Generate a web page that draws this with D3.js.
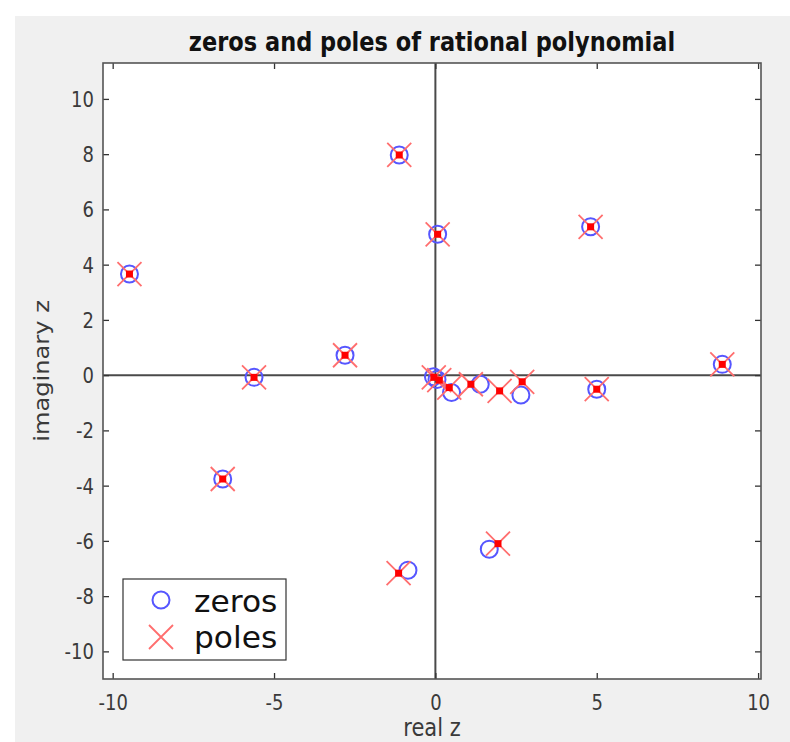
<!DOCTYPE html>
<html>
<head>
<meta charset="utf-8">
<script src="https://cdn.jsdelivr.net/npm/d3@7"></script>
<style>
  html, body { margin: 0; padding: 0; background: #fff; }
  text { font-family: "DejaVu Sans", sans-serif; }
</style>
</head>
<body>
<svg id="chart" width="790" height="742"></svg>
<script>
// Zeros and poles of a rational polynomial, plotted in the complex plane.
const zerosRe = [-9.48, -6.59, -5.62, -2.80, -1.12, 0.07, 4.81, 8.89, 5.00, -0.85, 1.67, -0.06, 0.05, 0.50, 1.39, 2.65];
const zerosIm = [3.66, -3.76, -0.08, 0.72, 7.97, 5.10, 5.37, 0.39, -0.51, -7.06, -6.30, -0.06, -0.16, -0.63, -0.33, -0.72];
const polesRe = [-9.48, -6.59, -5.62, -2.80, -1.12, 0.07, 4.81, 8.89, 5.00, -1.14, 1.94, -0.05, 0.12, 0.43, 1.10, 1.99, 2.69];
const polesIm = [3.66, -3.76, -0.08, 0.72, 7.97, 5.10, 5.37, 0.39, -0.51, -7.17, -6.10, -0.08, -0.18, -0.45, -0.33, -0.57, -0.24];

const xTicks = [-10, -5, 0, 5, 10];
const yTicks = [-10, -8, -6, -4, -2, 0, 2, 4, 6, 8, 10];
const xDomain = [-10.3, 10.09];
const yDomain = [-11.0, 11.3];

const titleText = "zeros and poles of rational polynomial";
const xLabel = "real z";
const yLabel = "imaginary z";
const legendLabels = ["zeros", "poles"];

const zeros = zerosRe.map((re, i) => ({ re, im: zerosIm[i] }));
const poles = polesRe.map((re, i) => ({ re, im: polesIm[i] }));

const svg = d3.select("#chart");
const box = { left: 103, right: 761, top: 63, bottom: 679 };
const SY = 1.15;            // glyphs are drawn slightly taller than wide
const tickFont = 18;

const x = d3.scaleLinear().domain(xDomain).range([box.left, box.right]);
const y = d3.scaleLinear().domain(yDomain).range([box.bottom, box.top]);

// figure background
svg.append("rect").attr("width", 790).attr("height", 742).attr("fill", "#fff");
svg.append("rect").attr("x", 15).attr("y", 16).attr("width", 775).attr("height", 726).attr("fill", "#f0f0f0");

// plot area
svg.append("rect")
  .attr("x", box.left).attr("y", box.top)
  .attr("width", box.right - box.left).attr("height", box.bottom - box.top)
  .attr("fill", "#fff");

// zero lines through the origin
svg.append("line")
  .attr("x1", x(0)).attr("x2", x(0)).attr("y1", box.top).attr("y2", box.bottom)
  .attr("stroke", "#4a4a4a").attr("stroke-width", 2);
svg.append("line")
  .attr("x1", box.left).attr("x2", box.right).attr("y1", y(0)).attr("y2", y(0))
  .attr("stroke", "#4a4a4a").attr("stroke-width", 2);

// axes with inward ticks on all four sides
const fmt = d => String(d);
const gx = svg.append("g").attr("transform", `translate(0,${box.bottom})`)
  .call(d3.axisBottom(x).tickValues(xTicks).tickSizeInner(-6).tickSizeOuter(0).tickPadding(0).tickFormat(fmt));
const gy = svg.append("g").attr("transform", `translate(${box.left},0)`)
  .call(d3.axisLeft(y).tickValues(yTicks).tickSizeInner(-6).tickSizeOuter(0).tickPadding(0).tickFormat(fmt));
const gt = svg.append("g").attr("transform", `translate(0,${box.top})`)
  .call(d3.axisTop(x).tickValues(xTicks).tickSizeInner(-6).tickSizeOuter(0).tickFormat(""));
const gr = svg.append("g").attr("transform", `translate(${box.right},0)`)
  .call(d3.axisRight(y).tickValues(yTicks).tickSizeInner(-6).tickSizeOuter(0).tickFormat(""));

[gx, gy, gt, gr].forEach(g => {
  g.select(".domain").remove();
  g.selectAll(".tick line").attr("stroke", "#333").attr("stroke-width", 1.3);
});

gx.selectAll(".tick text")
  .attr("y", 0).attr("dy", null)
  .attr("transform", `translate(0,30.5) scale(1,${SY})`)
  .attr("font-size", tickFont).attr("fill", "#3a3a3a")
  .style("font-family", "DejaVu Sans");
gy.selectAll(".tick text")
  .attr("x", 0).attr("dy", null)
  .attr("transform", `translate(-9,${0.365 * tickFont * SY}) scale(1,${SY})`)
  .attr("font-size", tickFont).attr("fill", "#3a3a3a")
  .style("font-family", "DejaVu Sans");

// axes box
svg.append("rect")
  .attr("x", box.left).attr("y", box.top)
  .attr("width", box.right - box.left).attr("height", box.bottom - box.top)
  .attr("fill", "none").attr("stroke", "#555").attr("stroke-width", 1.6);

// markers
const circleR = 8.5, crossH = 12, dotS = 7;
const zeroColor = "#5656ff", poleColor = "#ff6e6e", dotColor = "#ff0000";

const crossPath = (cx, cy, h) => `M${cx - h},${cy - h}L${cx + h},${cy + h}M${cx - h},${cy + h}L${cx + h},${cy - h}`;

svg.append("g").selectAll("circle").data(zeros).join("circle")
  .attr("cx", d => x(d.re)).attr("cy", d => y(d.im)).attr("r", circleR)
  .attr("fill", "none").attr("stroke", zeroColor).attr("stroke-width", 2);

svg.append("g").selectAll("path").data(poles).join("path")
  .attr("d", d => crossPath(x(d.re), y(d.im), crossH))
  .attr("fill", "none").attr("stroke", poleColor).attr("stroke-width", 1.8);

svg.append("g").selectAll("rect").data(poles).join("rect")
  .attr("x", d => x(d.re) - dotS / 2).attr("y", d => y(d.im) - dotS / 2)
  .attr("width", dotS).attr("height", dotS).attr("fill", dotColor);

// title and axis labels
svg.append("text")
  .attr("text-anchor", "middle").attr("font-weight", "bold").attr("font-size", 22.5)
  .attr("fill", "#111")
  .attr("transform", `translate(${(box.left + box.right) / 2},51) scale(1,${SY})`)
  .text(titleText);

svg.append("text")
  .attr("text-anchor", "middle").attr("font-size", 21).attr("fill", "#3a3a3a")
  .attr("transform", `translate(${(box.left + box.right) / 2},736) scale(1,${SY})`)
  .text(xLabel);

svg.append("text")
  .attr("text-anchor", "middle").attr("font-size", 21).attr("fill", "#3a3a3a")
  .attr("transform", `translate(49,${(box.top + box.bottom) / 2}) rotate(-90) scale(${SY},1)`)
  .text(yLabel);

// legend
const lg = svg.append("g");
lg.append("rect").attr("x", 123).attr("y", 579).attr("width", 163).attr("height", 81)
  .attr("fill", "#fff").attr("stroke", "#333").attr("stroke-width", 1.2);
lg.append("circle").attr("cx", 161).attr("cy", 600).attr("r", circleR)
  .attr("fill", "none").attr("stroke", zeroColor).attr("stroke-width", 2);
lg.append("path").attr("d", crossPath(161, 637, crossH))
  .attr("fill", "none").attr("stroke", poleColor).attr("stroke-width", 1.8);
legendLabels.forEach((t, i) => {
  lg.append("text")
    .attr("font-size", 29).attr("fill", "#111")
    .attr("transform", `translate(194,${612 + i * 36}) scale(1.08,1.04)`)
    .text(t);
});
</script>
</body>
</html>
